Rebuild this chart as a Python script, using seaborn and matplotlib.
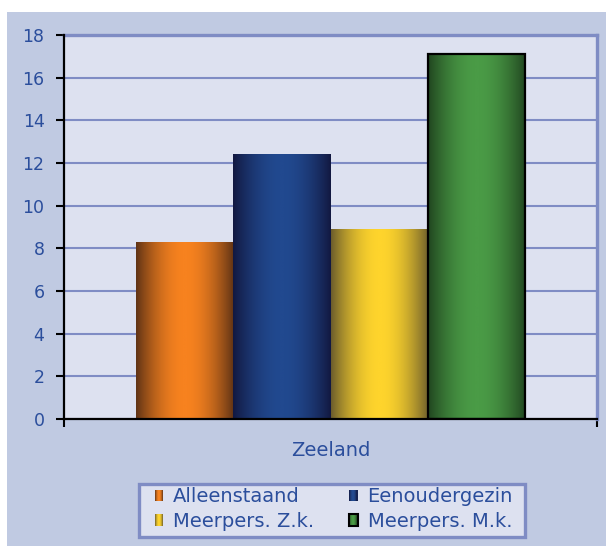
import matplotlib
matplotlib.use('Agg')
import matplotlib.pyplot as plt
import numpy as np
import pandas as pd
import seaborn as sns
from matplotlib.colors import LinearSegmentedColormap
from matplotlib.legend_handler import HandlerBase
from matplotlib.patches import Patch, Rectangle

# Data
regio = ['Zeeland']
huishoudens = ['Alleenstaand', 'Eenoudergezin', 'Meerpers. Z.k.', 'Meerpers. M.k.']
waarden = [8.3, 12.4, 8.9, 17.1]

# Styling (edge colour, centre colour) for the gradient bars
rand_kleur = ['#5e3215', '#121840', '#6a5c2c', '#20441f']
mid_kleur = ['#f7821f', '#21498f', '#fed42c', '#4a9b46']
tekst_kleur = '#2b4e9c'
lijn_kleur = '#7f8cc4'

df = pd.DataFrame({'regio': regio * len(huishoudens), 'type': huishoudens, 'waarde': waarden})

kaarten = [LinearSegmentedColormap.from_list('g%d' % i, [rand_kleur[i], mid_kleur[i]])
           for i in range(len(huishoudens))]
x = np.linspace(0, 1, 256)
profiel = np.sin(np.pi * x) ** 0.9


class GradientHandler(HandlerBase):
    # small gradient square like the bars
    def create_artists(self, legend, orig_handle, xdescent, ydescent, width, height,
                       fontsize, trans):
        i = int(orig_handle.get_gid())
        n = 8
        arts = []
        for k in range(n):
            c = kaarten[i](np.sin(np.pi * (k + 0.5) / n) ** 0.9)
            arts.append(Rectangle((-xdescent + k * width / n, -ydescent), width / n + 0.2, height,
                                  facecolor=c, edgecolor='none', transform=trans))
        if i == 3:
            arts.append(Rectangle((-xdescent, -ydescent), width, height, facecolor='none',
                                  edgecolor='black', linewidth=1.5, transform=trans))
        return arts


fig = plt.figure(figsize=(6.06, 5.46), dpi=100)
fig.patch.set_facecolor('white')
fig.patches.append(Rectangle((7 / 606, 0), 1, 1 - 12 / 546, transform=fig.transFigure,
                             facecolor='#c0cae2', edgecolor='none', zorder=-10))

ax = fig.add_axes([64 / 606, 1 - 419 / 546, 533 / 606, 384 / 546])
ax.set_facecolor('#dde1f0')

sns.barplot(data=df, x='regio', y='waarde', hue='type', hue_order=huishoudens,
            palette=mid_kleur, width=0.728, ax=ax, legend=False, saturation=1, zorder=3)

# gradient fill clipped to each bar
for i, bar in enumerate(ax.patches[:4]):
    bx, bw, bh = bar.get_x(), bar.get_width(), bar.get_height()
    im = ax.imshow(profiel[np.newaxis, :], cmap=kaarten[i], vmin=0, vmax=1, aspect='auto',
                   extent=[bx, bx + bw, 0, bh], zorder=4, interpolation='bilinear')
    im.set_clip_path(bar)
    if i == 3:
        bar.set_edgecolor('black')
        bar.set_linewidth(1.6)
        bar.set_zorder(5)
        bar.set_facecolor('none')

ax.set_xlim(-0.5, 0.5)
ax.set_ylim(0, 18)
ax.set_yticks(range(0, 19, 2))
ax.yaxis.grid(True, color=lijn_kleur, linewidth=1.5, zorder=1)
ax.set_axisbelow(True)
ax.set_xlabel('')
ax.set_ylabel('')

ax.set_xticks([0])
ax.set_xticklabels(['Zeeland'])
ax.set_xticks([-0.5, 0.5], minor=True)
ax.tick_params(axis='x', which='major', length=0, pad=16, labelsize=14, labelcolor=tekst_kleur)
ax.tick_params(axis='x', which='minor', length=6, width=1.5, color='black', direction='out')
ax.tick_params(axis='y', length=6, width=1.5, color='black', labelsize=12.5,
               labelcolor=tekst_kleur, pad=8)

for s in ['left', 'bottom']:
    ax.spines[s].set_color('black')
    ax.spines[s].set_linewidth(1.6)
    ax.spines[s].set_zorder(6)
for s in ['top', 'right']:
    ax.spines[s].set_color(lijn_kleur)
    ax.spines[s].set_linewidth(2.4)

# legend box drawn separately
fig.patches.append(Rectangle((138.5 / 606, 1 - 536.5 / 546), 386 / 606, 53 / 546,
                             transform=fig.transFigure, facecolor='#dde1f0',
                             edgecolor=lijn_kleur, linewidth=2.4, zorder=-5))

# legend (filled column-wise, so reorder)
orde = [0, 2, 1, 3]
handles = []
for i in orde:
    handles.append(Patch(facecolor=mid_kleur[i], label=huishoudens[i], gid=str(i)))
lx0, lx1 = 155 / 606, 513 / 606
ly0, ly1 = 1 - 534 / 546, 1 - 484 / 546
leg = fig.legend(handles=handles, loc='center', bbox_to_anchor=(lx0, ly0, lx1 - lx0, ly1 - ly0),
                 mode='expand', ncol=2, frameon=False, fontsize=14,
                 handlelength=0.42, handleheight=0.55, handletextpad=0.52, labelspacing=0.28,
                 borderpad=0, borderaxespad=0,
                 handler_map={Patch: GradientHandler()})
for t in leg.get_texts():
    t.set_color(tekst_kleur)

fig.savefig('out.png', dpi=100, facecolor=fig.get_facecolor())
